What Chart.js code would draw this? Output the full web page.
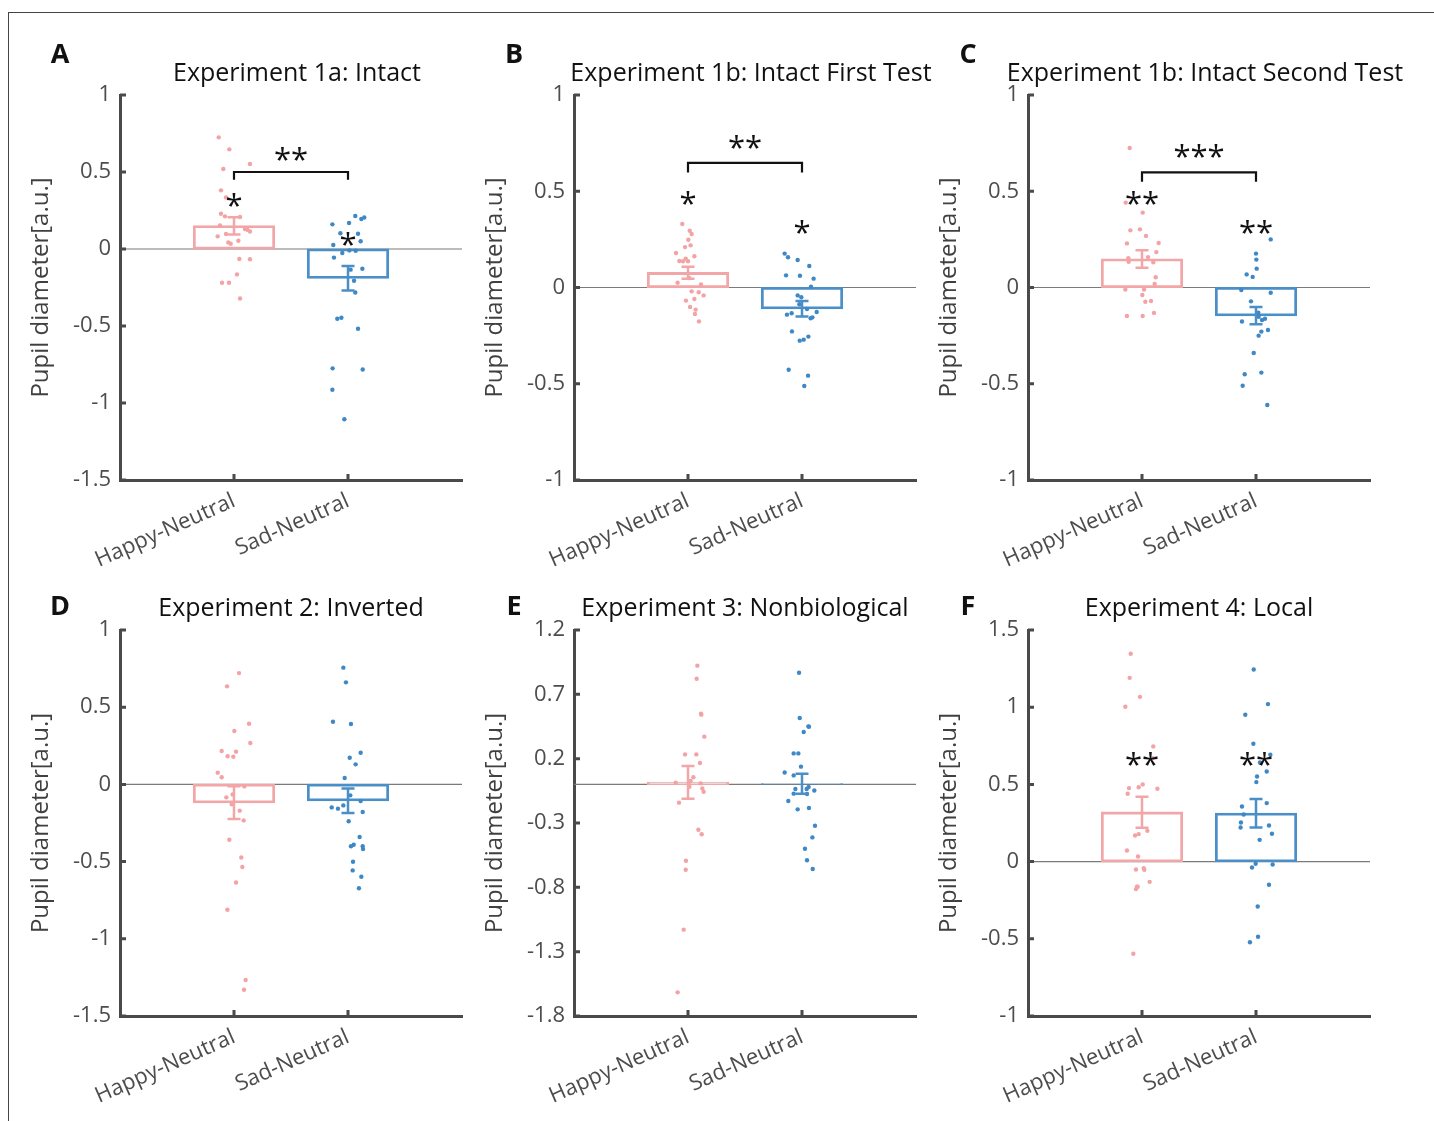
<!DOCTYPE html>
<html>
<head>
<meta charset="utf-8">
<script src="https://cdn.jsdelivr.net/npm/chart.js@4.4.0/dist/chart.umd.min.js"></script>
<style>
html, body { margin: 0; padding: 0; background: #fff; }
body { width: 1434px; height: 1121px; position: relative; overflow: hidden; }
#frame { position: absolute; left: 8px; top: 12px; width: 1500px; height: 1200px; border-left: 1px solid #444; border-top: 1px solid #444; }
canvas { position: absolute; }
</style>
</head>
<body>
<div id="frame"></div>
<canvas id="cA" width="460" height="570" style="left:10px;top:20px"></canvas>
<canvas id="cB" width="470" height="570" style="left:464px;top:20px"></canvas>
<canvas id="cC" width="516" height="570" style="left:918px;top:20px"></canvas>
<canvas id="cD" width="460" height="531" style="left:10px;top:590px"></canvas>
<canvas id="cE" width="470" height="531" style="left:464px;top:590px"></canvas>
<canvas id="cF" width="516" height="531" style="left:918px;top:590px"></canvas>
<script>
const categories = ['Happy-Neutral', 'Sad-Neutral'];

// y tick values per panel
const ticksA = [-1.5, -1, -0.5, 0, 0.5, 1];
const ticksB = [-1, -0.5, 0, 0.5, 1];
const ticksC = [-1, -0.5, 0, 0.5, 1];
const ticksD = [-1.5, -1, -0.5, 0, 0.5, 1];
const ticksE = [-1.8, -1.3, -0.8, -0.3, 0.2, 0.7, 1.2];
const ticksF = [-1, -0.5, 0, 0.5, 1, 1.5];

// group means and standard errors [happy, sad]
const meanA = [0.15, -0.19],   semA = [0.056, 0.079];
const meanB = [0.077, -0.11],  semB = [0.031, 0.04];
const meanC = [0.148, -0.146], semC = [0.045, 0.045];
const meanD = [-0.118, -0.106], semD = [0.106, 0.08];
const meanE = [0.016, 0.005],  semE = [0.127, 0.078];
const meanF = [0.32, 0.313],   semF = [0.10, 0.092];

// individual subjects (y) and their horizontal jitter (x offset from category)
const A_happyY = [0.725,0.647,0.552,0.519,0.381,0.335,0.229,0.212,0.208,0.153,0.130,0.125,0.114,0.082,0.097,0.043,0.034,0.054,-0.065,-0.067,-0.165,-0.219,-0.219,-0.321];
const A_happyX = [-0.134,-0.041,0.140,-0.094,-0.114,-0.070,-0.114,-0.079,0.053,-0.123,0.096,0.117,0.140,-0.143,-0.070,-0.050,-0.029,0.038,0.047,0.140,0.026,-0.105,-0.044,0.053];
const A_sadY = [0.160,0.214,0.195,0.205,0.169,0.102,0.099,0.050,0.026,-0.026,-0.009,-0.011,-0.056,-0.134,-0.128,-0.206,-0.282,-0.453,-0.446,-0.518,-0.775,-0.782,-0.914,-1.106];
const A_sadX = [-0.137,0.064,0.117,0.143,0.009,-0.067,0.088,0.111,-0.129,-0.050,0.012,0.067,-0.123,0.023,0.126,0.053,0.064,-0.094,-0.058,0.088,-0.135,0.129,-0.137,-0.032];

const B_happyY = [0.330,0.295,0.278,0.248,0.219,0.210,0.179,0.162,0.138,0.136,0.150,0.136,0.049,0.025,0.016,-0.020,-0.025,-0.041,-0.068,-0.060,-0.101,-0.115,-0.138,-0.176];
const B_happyX = [-0.050,0.015,0.032,0.003,0.023,-0.026,-0.105,0.056,-0.076,-0.044,-0.020,0.000,0.009,-0.091,0.114,0.032,0.094,0.137,-0.018,0.056,0.018,0.067,0.061,0.096];
const B_sadY = [0.176,0.157,0.143,0.112,0.063,0.061,0.046,0.004,-0.041,-0.051,-0.087,-0.112,-0.127,-0.141,-0.134,-0.160,-0.155,-0.228,-0.276,-0.271,-0.255,-0.427,-0.458,-0.512];
const B_sadX = [-0.152,-0.123,-0.038,0.064,-0.140,-0.018,0.102,0.079,-0.038,-0.006,-0.023,0.044,0.129,-0.132,-0.091,0.076,0.091,-0.088,-0.020,0.015,0.056,-0.117,0.053,0.020];

const C_happyY = [0.725,0.441,0.389,0.297,0.302,0.268,0.229,0.231,0.184,0.158,0.152,0.134,0.131,0.053,0.018,-0.010,-0.010,-0.039,-0.074,-0.070,-0.132,-0.148,-0.148];
const C_happyX = [-0.108,-0.143,0.006,-0.102,-0.018,0.035,-0.132,0.146,0.126,0.053,-0.120,-0.117,0.099,0.120,0.111,-0.146,0.018,0.003,0.029,0.079,0.105,-0.132,0.006];
const C_sadY = [0.250,0.176,0.145,0.098,0.068,0.055,-0.013,-0.027,-0.072,-0.131,-0.145,-0.152,-0.162,-0.169,-0.177,-0.221,-0.229,-0.250,-0.340,-0.442,-0.451,-0.510,-0.610];
const C_sadX = [0.129,0.000,0.003,0.006,-0.082,-0.029,-0.129,0.129,-0.044,0.020,0.009,0.023,0.079,0.053,-0.123,0.105,0.047,0.023,-0.020,0.047,-0.099,-0.117,0.099];

const D_happyY = [0.721,0.635,0.393,0.346,0.268,0.216,0.212,0.182,0.179,0.076,0.046,-0.013,-0.065,-0.084,-0.129,-0.170,-0.233,-0.358,-0.473,-0.535,-0.635,-0.812,-1.267,-1.330];
const D_happyX = [0.044,-0.061,0.132,0.003,0.143,-0.108,0.018,-0.056,-0.006,-0.143,-0.108,0.091,-0.012,-0.067,-0.020,0.050,0.085,-0.041,0.064,0.073,0.018,-0.058,0.102,0.088];
const D_sadY = [0.756,0.661,0.406,0.391,0.205,0.173,0.130,0.041,-0.071,-0.108,-0.136,-0.149,-0.157,-0.179,-0.239,-0.341,-0.391,-0.401,-0.401,-0.419,-0.501,-0.557,-0.598,-0.673];
const D_sadX = [-0.041,-0.018,-0.132,0.026,0.111,0.015,0.067,-0.029,0.020,0.111,-0.041,-0.143,-0.088,0.129,0.006,0.102,0.050,0.026,0.129,0.132,0.044,0.041,0.117,0.096];

const E_happyY = [0.923,0.821,0.549,0.542,0.371,0.233,0.233,0.166,0.055,0.026,0.013,0.003,-0.018,0.008,-0.031,-0.057,-0.142,-0.352,-0.388,-0.593,-0.663,-1.129,-1.616];
const E_happyX = [0.082,0.076,0.114,0.117,0.143,-0.026,0.073,0.105,0.047,0.023,-0.108,0.006,0.012,0.111,0.126,0.137,-0.079,0.091,0.120,-0.018,-0.020,-0.038,-0.091];
const E_sadY = [0.868,0.516,0.451,0.448,0.407,0.241,0.241,0.138,0.093,0.070,-0.036,-0.036,-0.020,-0.047,-0.072,-0.075,-0.129,-0.194,-0.184,-0.321,-0.412,-0.500,-0.590,-0.658];
const E_sadX = [-0.026,-0.020,0.056,0.061,0.015,-0.073,-0.032,-0.009,-0.152,-0.073,-0.058,0.041,0.058,0.108,-0.073,0.044,-0.120,-0.038,0.061,0.114,0.091,0.026,0.044,0.094];

const F_happyY = [1.346,1.190,1.067,1.003,0.746,0.670,0.476,0.482,0.500,0.472,0.439,0.199,0.169,0.178,0.072,0.033,-0.051,-0.042,-0.053,-0.131,-0.163,-0.178,-0.163,-0.597];
const F_happyX = [-0.099,-0.108,-0.018,-0.146,0.099,0.094,-0.114,-0.029,0.006,0.135,-0.126,0.047,-0.061,-0.029,-0.132,-0.035,-0.053,0.015,0.020,0.067,-0.038,-0.053,-0.044,-0.076];
const F_sadY = [1.244,1.020,0.951,0.763,0.692,0.642,0.584,0.551,0.515,0.379,0.357,0.305,0.253,0.221,0.234,0.180,0.141,-0.014,-0.019,-0.038,-0.150,-0.291,-0.487,-0.522];
const F_sadX = [-0.020,0.105,-0.094,-0.023,0.126,0.035,0.094,0.009,0.003,0.094,-0.123,-0.108,-0.132,-0.135,0.114,0.140,0.032,-0.003,0.146,-0.035,0.114,0.015,0.018,-0.053];

const FONT = '"Open Sans", "Noto Sans", sans-serif';
const PINK = '#F3A6A8', BLUE = '#4A8FC7';
const PINK_DOT = '#F4A3A5', BLUE_DOT = '#3F88C5';
const AXIS = '#4a4a4a', TICKTXT = '#4d4d4d';

Chart.defaults.font.family = FONT;

const panels = [
  { id: 'cA', letter: 'A', title: 'Experiment 1a: Intact', ticks: ticksA, mean: meanA, sem: semA,
    hy: A_happyY, hx: A_happyX, sy: A_sadY, sx: A_sadX, top: true, right: 8,
    stars: [[1, 0.316, '*'], [2, 0.067, '*']], bracket: { y: 0.5, leg: 0.45, text: '**', ty: 0.619 } },
  { id: 'cB', letter: 'B', title: 'Experiment 1b: Intact First Test', ticks: ticksB, mean: meanB, sem: semB,
    hy: B_happyY, hx: B_happyX, sy: B_sadY, sx: B_sadX, top: true, right: 18,
    stars: [[1, 0.463, '*'], [2, 0.313, '*']], bracket: { y: 0.647, leg: 0.598, text: '**', ty: 0.757 } },
  { id: 'cC', letter: 'C', title: 'Experiment 1b: Intact Second Test', ticks: ticksC, mean: meanC, sem: semC,
    hy: C_happyY, hx: C_happyX, sy: C_sadY, sx: C_sadX, top: true, right: 64,
    stars: [[1, 0.463, '**'], [2, 0.313, '**']], bracket: { y: 0.598, leg: 0.55, text: '***', ty: 0.711 } },
  { id: 'cD', letter: 'D', title: 'Experiment 2: Inverted', ticks: ticksD, mean: meanD, sem: semD,
    hy: D_happyY, hx: D_happyX, sy: D_sadY, sx: D_sadX, top: false, right: 8, stars: [], bracket: null },
  { id: 'cE', letter: 'E', title: 'Experiment 3: Nonbiological', ticks: ticksE, mean: meanE, sem: semE,
    hy: E_happyY, hx: E_happyX, sy: E_sadY, sx: E_sadX, top: false, right: 18, stars: [], bracket: null },
  { id: 'cF', letter: 'F', title: 'Experiment 4: Local', ticks: ticksF, mean: meanF, sem: semF,
    hy: F_happyY, hx: F_happyX, sy: F_sadY, sx: F_sadX, top: false, right: 64,
    stars: [[1, 0.664, '**'], [2, 0.664, '**']], bracket: null }
];

// draw text with the glyph box centred on (px, py)
function centred(ctx, text, px, py) {
  const m = ctx.measureText(text);
  ctx.textAlign = 'center';
  ctx.textBaseline = 'alphabetic';
  ctx.fillText(text, px, py + (m.actualBoundingBoxAscent - m.actualBoundingBoxDescent) / 2);
}

function overlay(p) {
  return {
    id: 'overlay',
    beforeDatasetsDraw(chart) {
      const { ctx, chartArea: a, scales: { y } } = chart;
      const y0 = y.getPixelForValue(0);
      ctx.save();
      ctx.strokeStyle = '#7a7a7a';
      ctx.lineWidth = 1.2;
      ctx.beginPath(); ctx.moveTo(a.left, y0); ctx.lineTo(a.right, y0); ctx.stroke();
      ctx.restore();
    },
    afterDatasetsDraw(chart) {
      const { ctx, scales: { x, y } } = chart;
      ctx.save();
      // error bars
      p.mean.forEach((m, i) => {
        const px = x.getPixelForValue(i + 1);
        const t = y.getPixelForValue(m + p.sem[i]), b = y.getPixelForValue(m - p.sem[i]);
        ctx.strokeStyle = i === 0 ? PINK : BLUE;
        ctx.lineWidth = 2.5;
        ctx.beginPath();
        ctx.moveTo(px, t); ctx.lineTo(px, b);
        ctx.moveTo(px - 6.5, t); ctx.lineTo(px + 6.5, t);
        ctx.moveTo(px - 6.5, b); ctx.lineTo(px + 6.5, b);
        ctx.stroke();
      });
      // significance marks
      ctx.fillStyle = '#111';
      ctx.font = '31px ' + FONT;
      p.stars.forEach(s => centred(ctx, s[2], x.getPixelForValue(s[0]), y.getPixelForValue(s[1])));
      if (p.bracket) {
        const bk = p.bracket;
        const x1 = x.getPixelForValue(1), x2 = x.getPixelForValue(2);
        const by = y.getPixelForValue(bk.y), ly = y.getPixelForValue(bk.leg);
        ctx.strokeStyle = '#111';
        ctx.lineWidth = 2.2;
        ctx.beginPath();
        ctx.moveTo(x1, ly); ctx.lineTo(x1, by); ctx.lineTo(x2, by); ctx.lineTo(x2, ly);
        ctx.stroke();
        centred(ctx, bk.text, (x1 + x2) / 2, y.getPixelForValue(bk.ty));
      }
      ctx.restore();
    },
    afterDraw(chart) {
      const { ctx, chartArea: a, scales: { x, y } } = chart;
      ctx.save();
      // inward tick marks
      ctx.strokeStyle = AXIS;
      ctx.lineWidth = 3;
      ctx.beginPath();
      y.ticks.forEach(t => {
        const py = y.getPixelForValue(t.value);
        ctx.moveTo(a.left, py); ctx.lineTo(a.left + 6, py);
      });
      x.ticks.forEach(t => {
        const px = x.getPixelForValue(t.value);
        ctx.moveTo(px, a.bottom); ctx.lineTo(px, a.bottom - 6);
      });
      ctx.stroke();
      // title
      ctx.fillStyle = '#111';
      ctx.font = '25px ' + FONT;
      ctx.textAlign = 'center';
      ctx.textBaseline = 'alphabetic';
      ctx.fillText(p.title, (a.left + a.right) / 2 + (p.top ? 6 : 0), a.top - 14);
      // panel letter
      ctx.font = 'bold 27px ' + FONT;
      centred(ctx, p.letter, a.left - 60, a.top - (p.top ? 42 : 25));
      // y axis title
      ctx.fillStyle = '#404040';
      ctx.font = '24px ' + FONT;
      ctx.translate(a.left - 79, (a.top + a.bottom) / 2);
      ctx.rotate(-Math.PI / 2);
      ctx.textAlign = 'center';
      ctx.textBaseline = 'middle';
      ctx.fillText('Pupil diameter[a.u.]', 0, 0);
      ctx.restore();
    }
  };
}

panels.forEach(p => {
  const lo = p.ticks[0], hi = p.ticks[p.ticks.length - 1];
  new Chart(document.getElementById(p.id), {
    type: 'bar',
    data: {
      datasets: [
        {
          type: 'bar',
          data: p.mean.map((m, i) => ({ x: i + 1, y: m })),
          borderColor: [PINK, BLUE],
          backgroundColor: 'rgba(0,0,0,0)',
          borderWidth: 1.6,
          borderSkipped: false,
          inflateAmount: 0.6,
          barThickness: 81,
          order: 2
        },
        {
          type: 'scatter',
          data: p.hy.map((v, i) => ({ x: 1 + p.hx[i], y: v })),
          backgroundColor: PINK_DOT,
          pointRadius: 2.2,
          borderWidth: 0,
          order: 1
        },
        {
          type: 'scatter',
          data: p.sy.map((v, i) => ({ x: 2 + p.sx[i], y: v })),
          backgroundColor: BLUE_DOT,
          pointRadius: 2.2,
          borderWidth: 0,
          order: 1
        }
      ]
    },
    options: {
      responsive: false,
      animation: false,
      events: [],
      layout: { padding: { top: p.top ? 75 : 40, right: p.right, left: 0, bottom: 0 } },
      plugins: { legend: { display: false }, tooltip: { enabled: false } },
      scales: {
        x: {
          type: 'linear', min: 0, max: 3, offset: false,
          afterBuildTicks: s => { s.ticks = [{ value: 1 }, { value: 2 }]; },
          afterFit: s => { s.height = p.top ? 110 : 105; },
          grid: { display: false, drawTicks: false },
          border: { display: true, color: AXIS, width: 3 },
          ticks: {
            autoSkip: false, minRotation: 24, maxRotation: 24, padding: 8,
            color: TICKTXT, font: { size: 22 },
            callback: v => categories[Math.round(v) - 1]
          }
        },
        y: {
          type: 'linear', min: lo, max: hi,
          afterBuildTicks: s => { s.ticks = p.ticks.map(v => ({ value: v })); },
          afterFit: s => { s.width = 110; },
          grid: { display: false, drawTicks: false },
          border: { display: true, color: AXIS, width: 3 },
          ticks: { padding: 9, color: TICKTXT, font: { size: 22 }, callback: v => String(v) }
        }
      }
    },
    plugins: [overlay(p)]
  });
});
</script>
</body>
</html>
